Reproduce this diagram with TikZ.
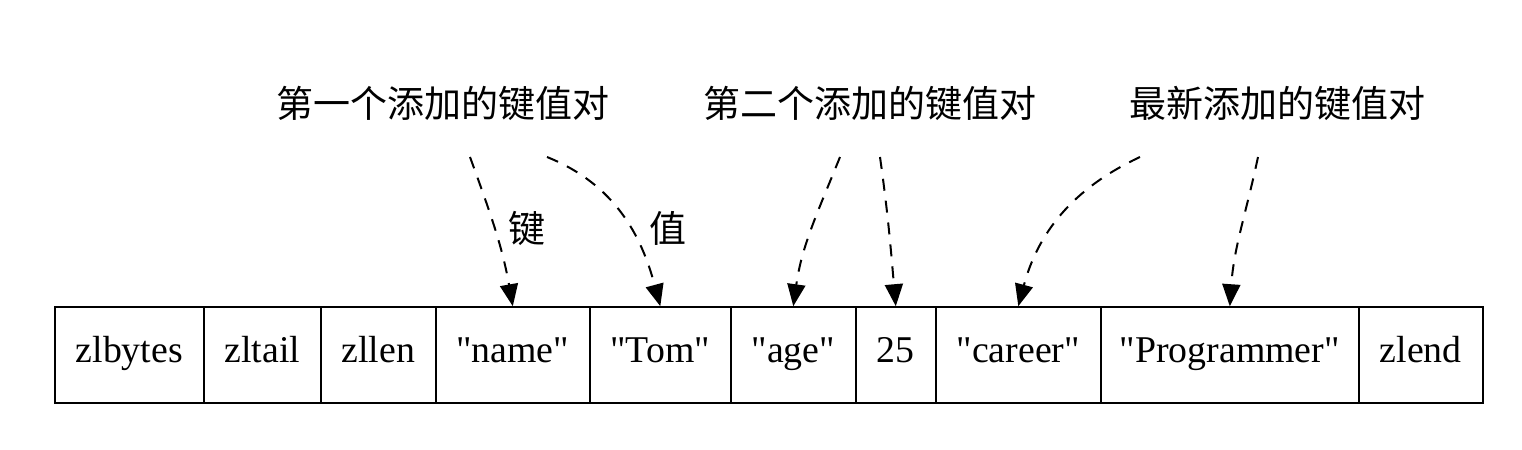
\documentclass[tikz,border=0pt]{standalone}
\usepackage{fontspec}
\setmainfont{Liberation Serif}[Ligatures=TeXOff]
\newfontfamily\cjk{Noto Sans CJK SC}
\usetikzlibrary{arrows.meta}
\begin{document}
\begin{tikzpicture}[x=0.5pt,y=0.5pt,
  cell/.style={draw=black,line width=0.8pt,minimum height=48pt,inner sep=0pt,text height=0.84em,text depth=0.07em,anchor=west,font=\fontsize{18.9}{20}\selectfont},
  lbl/.style={font=\cjk\fontsize{18.5}{20}\selectfont,inner sep=0pt},
  ptr/.style={line width=1pt,dash pattern=on 6pt off 5pt,-{Triangle[length=11pt,width=9pt]}}]
\useasboundingbox (0,0) rectangle (1522,-450);
% cells
\node[cell,minimum width=74.5pt] (c1) at (54,-355) {zlbytes};
\node[cell,minimum width=58.5pt] (c2) at (203,-355) {zltail};
\node[cell,minimum width=57.5pt] (c3) at (320,-355) {zllen};
\node[cell,minimum width=77pt] (c4) at (435,-355) {"name"};
\node[cell,minimum width=70.5pt] (c5) at (589,-355) {"Tom"};
\node[cell,minimum width=62.5pt] (c6) at (730,-355) {"age"};
\node[cell,minimum width=40pt] (c7) at (855,-355) {25};
\node[cell,minimum width=82.5pt] (c8) at (935,-355) {"career"};
\node[cell,minimum width=129pt] (c9) at (1100,-355) {"Programmer"};
\node[cell,minimum width=62pt] (c10) at (1358,-355) {zlend};
% labels
\node[lbl] (l1) at (443,-103) {第一个添加的键值对};
\node[lbl] (l2) at (870,-103) {第二个添加的键值对};
\node[lbl] (l3) at (1277,-103) {最新添加的键值对};
\node[lbl] (k) at (527,-228) {键};
\node[lbl] (v) at (668,-228) {值};
% pointer starts
\coordinate (s1) at (470,-157);
\coordinate (s2) at (547,-157);
\coordinate (s3) at (840,-157);
\coordinate (s4) at (880,-157);
\coordinate (s5) at (1140,-157);
\coordinate (s6) at (1258,-157);
% pointers
\draw[ptr] (s1) to[out=-70,in=100] (c4.north);
\draw[ptr] (s2) to[out=-22,in=105] (c5.north);
\draw[ptr] (s3) to[out=-112,in=82] (c6.north);
\draw[ptr] (s4) to[out=-82,in=95] (c7.north);
\draw[ptr] (s5) to[out=-155,in=75] (c8.north);
\draw[ptr] (s6) to[out=-102,in=86] (c9.north);
\end{tikzpicture}
\end{document}
